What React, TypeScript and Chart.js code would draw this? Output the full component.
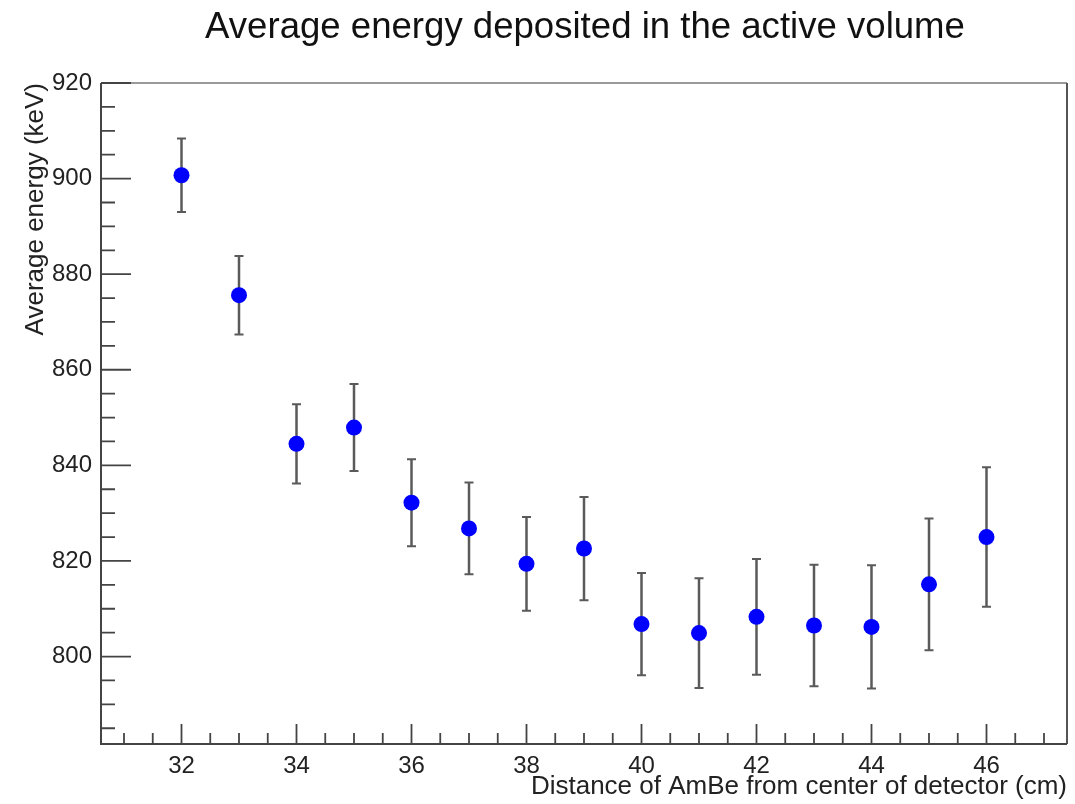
import React, { useEffect, useRef } from "react";
import { Chart, registerables } from "chart.js";

Chart.register(...registerables);

const distances = [32, 33, 34, 35, 36, 37, 38, 39, 40, 41, 42, 43, 44, 45, 46];
const energies = [900.7, 875.6, 844.5, 847.9, 832.2, 826.8, 819.4, 822.6, 806.8, 804.9, 808.3, 806.5, 806.2, 815.1, 825.0];
const energyErrors = [7.7, 8.2, 8.3, 9.1, 9.1, 9.6, 9.8, 10.8, 10.7, 11.5, 12.1, 12.7, 12.9, 13.8, 14.6];
const xTickLabels = [32, 34, 36, 38, 40, 42, 44, 46];
const yTickLabels = [800, 820, 840, 860, 880, 900, 920];

const TITLE = "Average energy deposited in the active volume";
const X_TITLE = "Distance of AmBe from center of detector (cm)";
const Y_TITLE = "Average energy (keV)";
const FONT = "'Liberation Sans', Arial, Helvetica, sans-serif";

const rootPlugin = {
  id: "rootStyle",
  beforeDatasetsDraw(chart: any) {
    const ctx = chart.ctx;
    const xs = chart.scales.x;
    const ys = chart.scales.y;
    ctx.save();
    ctx.strokeStyle = "#5a5a5a";
    distances.forEach((d, i) => {
      const px = xs.getPixelForValue(d);
      const top = ys.getPixelForValue(energies[i] + energyErrors[i]);
      const bot = ys.getPixelForValue(energies[i] - energyErrors[i]);
      ctx.lineWidth = 2.5;
      ctx.beginPath();
      ctx.moveTo(px, top);
      ctx.lineTo(px, bot);
      ctx.stroke();
      ctx.lineWidth = 2;
      ctx.beginPath();
      ctx.moveTo(px - 4.5, top);
      ctx.lineTo(px + 4.5, top);
      ctx.moveTo(px - 4.5, bot);
      ctx.lineTo(px + 4.5, bot);
      ctx.stroke();
    });
    ctx.restore();
  },
  afterDraw(chart: any) {
    const ctx = chart.ctx;
    const a = chart.chartArea;
    const xs = chart.scales.x;
    const ys = chart.scales.y;
    ctx.save();
    ctx.strokeStyle = "#9a9a9a";
    ctx.lineWidth = 2;
    ctx.beginPath();
    ctx.moveTo(a.left, a.top);
    ctx.lineTo(a.right, a.top);
    ctx.stroke();
    ctx.strokeStyle = "#555555";
    ctx.beginPath();
    ctx.moveTo(a.right, a.top);
    ctx.lineTo(a.right, a.bottom);
    ctx.stroke();
    ctx.strokeStyle = "#444444";
    ctx.lineWidth = 2;
    ctx.beginPath();
    ctx.moveTo(a.left, a.top);
    ctx.lineTo(a.left, a.bottom);
    ctx.lineTo(a.right, a.bottom);
    ctx.stroke();
    ctx.lineWidth = 1.8;
    ctx.beginPath();
    for (let k = Math.ceil(xs.min * 2); k <= Math.floor(xs.max * 2); k++) {
      const v = k / 2;
      const px = xs.getPixelForValue(v);
      const len = v % 2 === 0 ? 20 : 11;
      ctx.moveTo(px, a.bottom);
      ctx.lineTo(px, a.bottom - len);
    }
    for (let k = Math.ceil(ys.min / 5); k <= Math.floor(ys.max / 5); k++) {
      const v = k * 5;
      const py = ys.getPixelForValue(v);
      const len = v % 20 === 0 ? 30 : 14;
      ctx.moveTo(a.left, py);
      ctx.lineTo(a.left + len, py);
    }
    ctx.stroke();
    ctx.fillStyle = "#111111";
    ctx.font = `36.6px ${FONT}`;
    ctx.textAlign = "center";
    ctx.textBaseline = "alphabetic";
    ctx.fillText(TITLE, 585, 38);
    ctx.restore();
  },
};

export default function App() {
  const ref = useRef<HTMLCanvasElement | null>(null);
  useEffect(() => {
    if (!ref.current) return;
    const chart = new Chart(ref.current, {
      type: "scatter",
      data: {
        datasets: [
          {
            label: "energy",
            data: distances.map((d, i) => ({ x: d, y: energies[i] })),
            backgroundColor: "#0000ff",
            borderColor: "#0000ff",
            pointRadius: 8,
            pointBorderWidth: 0,
          },
        ],
      },
      options: {
        responsive: false,
        animation: false,
        events: [],
        layout: { padding: { top: 83, right: 4, left: 0, bottom: 0 } },
        plugins: { legend: { display: false }, title: { display: false }, tooltip: { enabled: false } },
        scales: {
          x: {
            type: "linear",
            min: 30.6,
            max: 47.4,
            grid: { display: false, drawTicks: false },
            border: { display: false },
            afterBuildTicks: (s: any) => {
              s.ticks = xTickLabels.map((v) => ({ value: v }));
            },
            afterFit: (s: any) => {
              s.height = 60;
            },
            ticks: {
              autoSkip: false,
              maxRotation: 0,
              padding: 8,
              color: "#222222",
              font: { family: FONT, size: 24 },
            },
            title: {
              display: true,
              text: X_TITLE,
              align: "end",
              color: "#222222",
              font: { family: FONT, size: 26 },
              padding: { top: 0, bottom: 2 },
            },
          },
          y: {
            type: "linear",
            min: 781.7,
            max: 920,
            grid: { display: false, drawTicks: false },
            border: { display: false },
            afterBuildTicks: (s: any) => {
              s.ticks = yTickLabels.map((v) => ({ value: v }));
            },
            afterFit: (s: any) => {
              s.width = 101;
            },
            ticks: {
              autoSkip: false,
              padding: 9,
              color: "#222222",
              font: { family: FONT, size: 24 },
            },
            title: {
              display: true,
              text: Y_TITLE,
              align: "end",
              color: "#222222",
              font: { family: FONT, size: 26 },
              padding: { top: 20, bottom: 0 },
            },
          },
        },
      },
      plugins: [rootPlugin],
    });
    return () => chart.destroy();
  }, []);
  return (
    <div style={{ position: "fixed", left: 0, top: 0, width: 1075, height: 804, background: "#ffffff" }}>
      <canvas ref={ref} width={1075} height={804} />
    </div>
  );
}
